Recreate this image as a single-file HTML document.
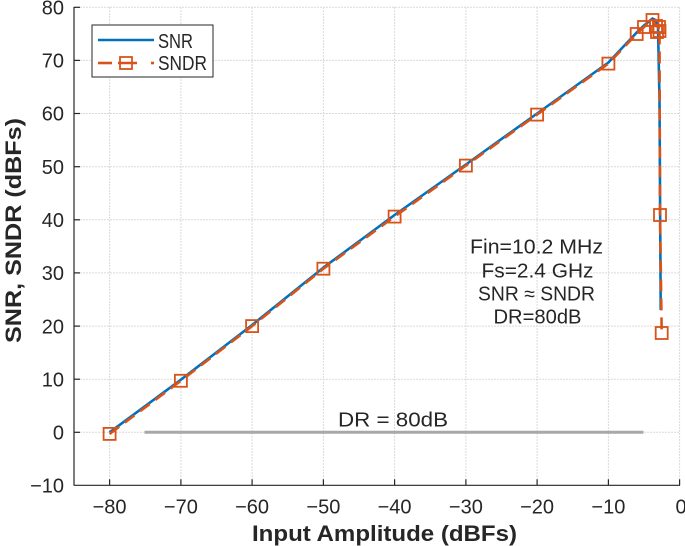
<!DOCTYPE html>
<html><head><meta charset="utf-8"><style>
html,body{margin:0;padding:0;background:#fff;}
svg{display:block;}
text{font-family:"Liberation Sans",sans-serif;fill:#262626;}
</style></head><body>
<svg width="685" height="546" viewBox="0 0 685 546" xmlns="http://www.w3.org/2000/svg">
<rect width="685" height="546" fill="#fff"/>
<!-- grid -->
<g stroke="#dadada" stroke-width="1" stroke-dasharray="2 1">
<line x1="109.6" y1="7" x2="109.6" y2="485"/>
<line x1="180.9" y1="7" x2="180.9" y2="485"/>
<line x1="252.1" y1="7" x2="252.1" y2="485"/>
<line x1="323.4" y1="7" x2="323.4" y2="485"/>
<line x1="394.6" y1="7" x2="394.6" y2="485"/>
<line x1="465.9" y1="7" x2="465.9" y2="485"/>
<line x1="537.1" y1="7" x2="537.1" y2="485"/>
<line x1="608.4" y1="7" x2="608.4" y2="485"/>
<line x1="679.6" y1="7" x2="679.6" y2="485"/>
<line x1="74" y1="7.3" x2="680" y2="7.3"/>
<line x1="74" y1="60.4" x2="680" y2="60.4"/>
<line x1="74" y1="113.5" x2="680" y2="113.5"/>
<line x1="74" y1="166.7" x2="680" y2="166.7"/>
<line x1="74" y1="219.8" x2="680" y2="219.8"/>
<line x1="74" y1="272.9" x2="680" y2="272.9"/>
<line x1="74" y1="326.1" x2="680" y2="326.1"/>
<line x1="74" y1="379.2" x2="680" y2="379.2"/>
<line x1="74" y1="432.3" x2="680" y2="432.3"/>
</g>
<!-- axes -->
<g stroke="#262626" stroke-width="1.2" fill="none">
<line x1="74" y1="7" x2="74" y2="485.5"/>
<line x1="74" y1="485.3" x2="680" y2="485.3"/>
<line x1="74" y1="7.3" x2="80" y2="7.3"/>
<line x1="74" y1="60.4" x2="80" y2="60.4"/>
<line x1="74" y1="113.5" x2="80" y2="113.5"/>
<line x1="74" y1="166.7" x2="80" y2="166.7"/>
<line x1="74" y1="219.8" x2="80" y2="219.8"/>
<line x1="74" y1="272.9" x2="80" y2="272.9"/>
<line x1="74" y1="326.1" x2="80" y2="326.1"/>
<line x1="74" y1="379.2" x2="80" y2="379.2"/>
<line x1="74" y1="432.3" x2="80" y2="432.3"/>
<line x1="109.6" y1="485.3" x2="109.6" y2="479.3"/>
<line x1="180.9" y1="485.3" x2="180.9" y2="479.3"/>
<line x1="252.1" y1="485.3" x2="252.1" y2="479.3"/>
<line x1="323.4" y1="485.3" x2="323.4" y2="479.3"/>
<line x1="394.6" y1="485.3" x2="394.6" y2="479.3"/>
<line x1="465.9" y1="485.3" x2="465.9" y2="479.3"/>
<line x1="537.1" y1="485.3" x2="537.1" y2="479.3"/>
<line x1="608.4" y1="485.3" x2="608.4" y2="479.3"/>
<line x1="679.6" y1="485.3" x2="679.6" y2="479.3"/>
</g>
<!-- y tick labels -->
<g font-size="20" text-anchor="end">
<text x="64" y="14.5">80</text>
<text x="64" y="67.5">70</text>
<text x="64" y="120.5">60</text>
<text x="64" y="174">50</text>
<text x="64" y="227">40</text>
<text x="64" y="280">30</text>
<text x="64" y="333.5">20</text>
<text x="64" y="386.5">10</text>
<text x="64" y="439.5">0</text>
<text x="64" y="492.5">−10</text>
</g>
<!-- x tick labels -->
<g font-size="20" text-anchor="middle">
<text x="109.6" y="513.5">−80</text>
<text x="180.9" y="513.5">−70</text>
<text x="252.1" y="513.5">−60</text>
<text x="323.4" y="513.5">−50</text>
<text x="394.6" y="513.5">−40</text>
<text x="465.9" y="513.5">−30</text>
<text x="537.1" y="513.5">−20</text>
<text x="608.4" y="513.5">−10</text>
<text x="681" y="513.5">0</text>
</g>
<!-- axis labels -->
<text x="252" y="541" font-size="22" font-weight="bold" textLength="265" lengthAdjust="spacingAndGlyphs">Input Amplitude (dBFs)</text>
<text transform="translate(21,343) rotate(-90)" x="0" y="0" font-size="22" font-weight="bold" textLength="225" lengthAdjust="spacingAndGlyphs">SNR, SNDR (dBFs)</text>
<!-- DR line -->
<line x1="144.5" y1="432.3" x2="643.5" y2="432.3" stroke="#a8a8a8" stroke-width="3"/>
<text x="338" y="426.5" font-size="20" textLength="110" lengthAdjust="spacingAndGlyphs">DR = 80dB</text>
<!-- annotation -->
<g font-size="20" text-anchor="middle">
<text x="536.5" y="253.5" textLength="133" lengthAdjust="spacingAndGlyphs">Fin=10.2 MHz</text>
<text x="537.5" y="277.5" textLength="112" lengthAdjust="spacingAndGlyphs">Fs=2.4 GHz</text>
<text x="536.5" y="300.5" textLength="117" lengthAdjust="spacingAndGlyphs">SNR ≈ SNDR</text>
<text x="537.5" y="323.5" textLength="88" lengthAdjust="spacingAndGlyphs">DR=80dB</text>
</g>
<!-- SNR -->
<polyline fill="none" stroke="#0072BD" stroke-width="2.6" stroke-linejoin="round"
points="109.6,432.3 180.9,379.7 252.1,325 323.4,267.6 394.6,215 465.9,164.5 537.1,113.5 608.4,62.5 636.7,32.5 644,25.5 652.5,18.5 655.5,20 658,27 659.5,100 660.7,310"/>
<!-- SNDR -->
<polyline fill="none" stroke="#D95319" stroke-width="2.6" stroke-dasharray="12 7" stroke-linejoin="round"
points="109.6,433.9 180.9,380.8 252.1,326.1 323.4,268.7 394.6,216.6 465.9,165.6 537.1,114.6 608.4,63.6 636.7,34 644,27 652.5,20 656,26 659,27 657,32 659.5,31 660,215 661.7,333"/>
<g fill="none" stroke="#D95319" stroke-width="1.8">
<rect x="103.6" y="427.9" width="12" height="12"/>
<rect x="174.9" y="374.8" width="12" height="12"/>
<rect x="246.1" y="320.1" width="12" height="12"/>
<rect x="317.4" y="262.7" width="12" height="12"/>
<rect x="388.6" y="210.6" width="12" height="12"/>
<rect x="459.9" y="159.6" width="12" height="12"/>
<rect x="531.1" y="108.6" width="12" height="12"/>
<rect x="602.4" y="57.6" width="12" height="12"/>
<rect x="630.7" y="28" width="12" height="12"/>
<rect x="638" y="21" width="12" height="12"/>
<rect x="646.5" y="14" width="12" height="12"/>
<rect x="650" y="20" width="12" height="12"/>
<rect x="653" y="21" width="12" height="12"/>
<rect x="651" y="26" width="12" height="12"/>
<rect x="653.5" y="25" width="12" height="12"/>
<rect x="654" y="209" width="12" height="12"/>
<rect x="655.7" y="327" width="12" height="12"/>
</g>
<!-- legend -->
<rect x="92" y="25" width="121" height="52" fill="#fff" stroke="#262626" stroke-width="1"/>
<line x1="98" y1="40" x2="154" y2="40" stroke="#0072BD" stroke-width="2.6"/>
<text x="158" y="48" font-size="20" textLength="35" lengthAdjust="spacingAndGlyphs">SNR</text>
<line x1="98" y1="63" x2="112" y2="63" stroke="#D95319" stroke-width="2.6"/>
<line x1="118" y1="63" x2="137" y2="63" stroke="#D95319" stroke-width="2.6"/>
<line x1="151" y1="63" x2="154" y2="63" stroke="#D95319" stroke-width="2.6"/>
<rect x="120" y="57" width="12" height="12" fill="none" stroke="#D95319" stroke-width="1.8"/>
<text x="158" y="70" font-size="20" textLength="49" lengthAdjust="spacingAndGlyphs">SNDR</text>
</svg>
</body></html>
